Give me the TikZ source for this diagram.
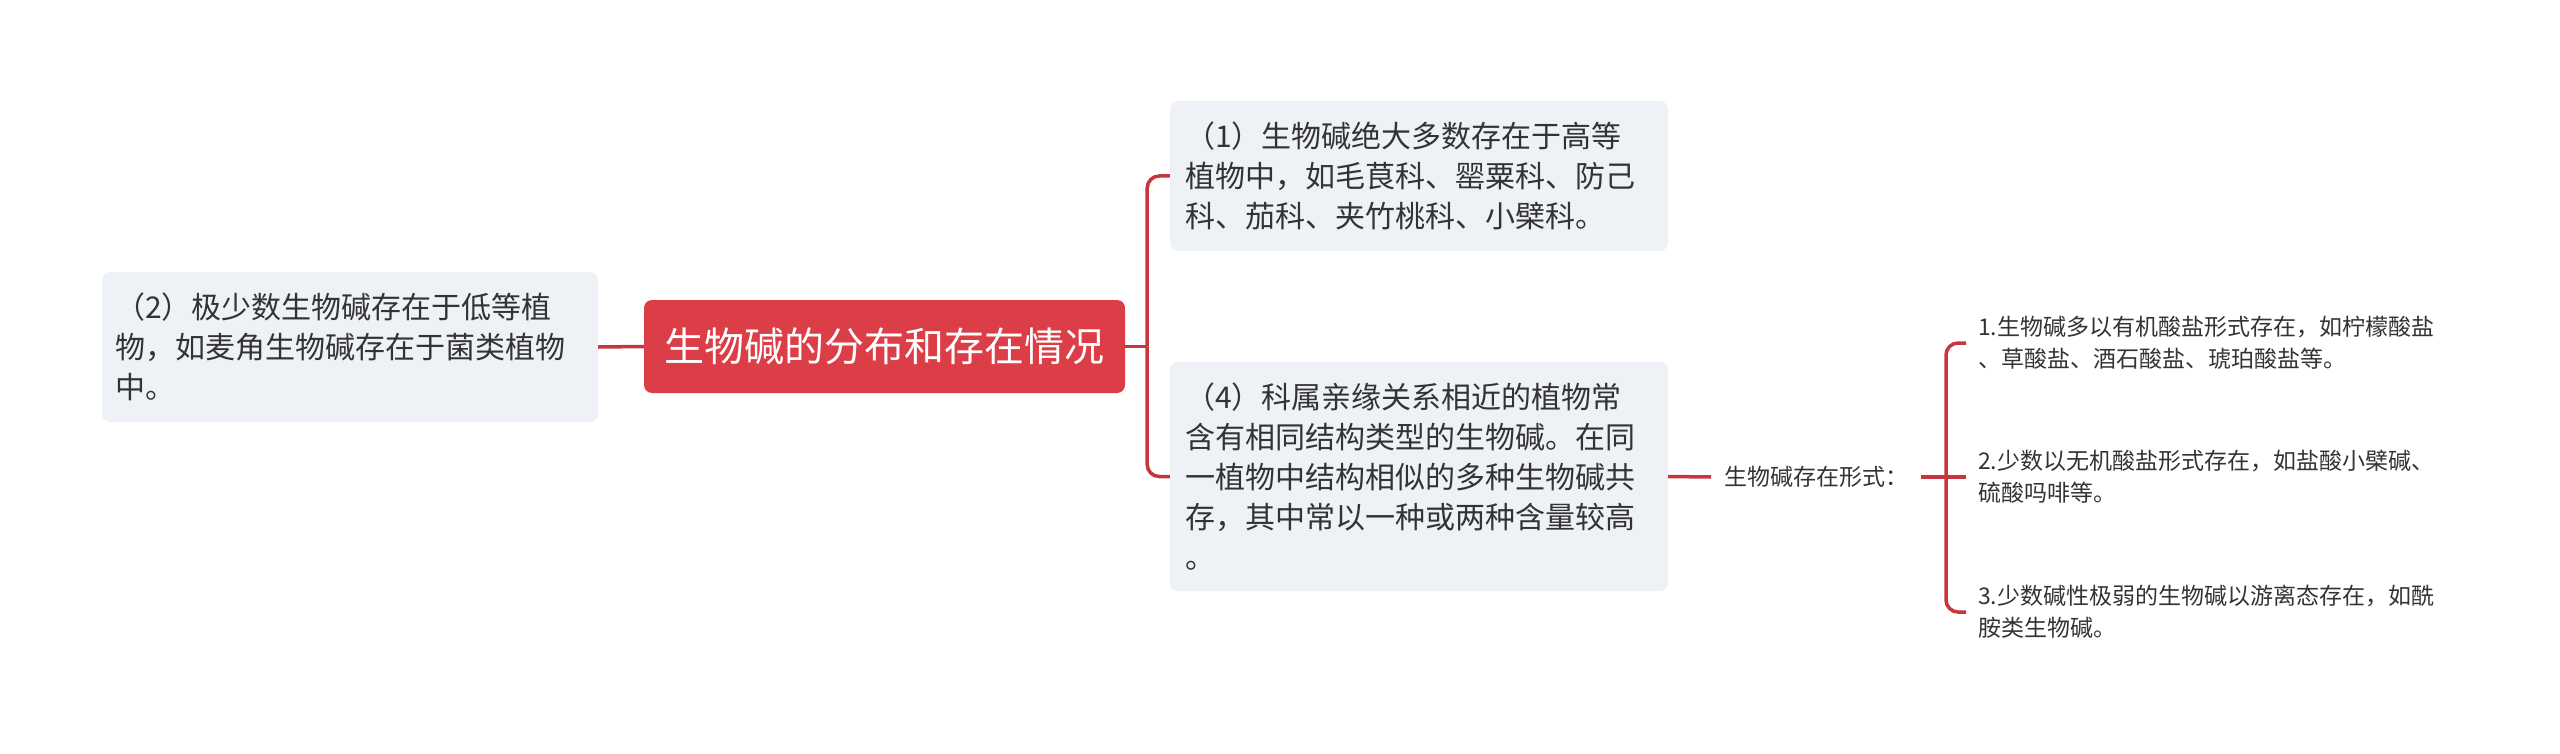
\documentclass[tikz,border=0pt]{standalone}
\usepackage{fontspec}
\newfontfamily\cjk{Noto Sans CJK SC}
\definecolor{rootred}{HTML}{DB3E46}
\definecolor{linered}{HTML}{C9353D}
\definecolor{boxgray}{HTML}{EEF1F5}
\definecolor{txt}{HTML}{333333}
\tikzset{
  conn/.style={draw=linered, line width=3.5pt},
  rootbox/.style={fill=rootred, rounded corners=8pt, text=white, font=\cjk\fontsize{40}{48}\selectfont, minimum width=481pt, minimum height=93pt, inner sep=0pt},
  subbox/.style={fill=boxgray, rounded corners=8pt, text=txt, align=left, font=\cjk\fontsize{30}{40}\selectfont, inner ysep=0pt},
  lbl/.style={text=txt, font=\cjk\fontsize{23}{32}\selectfont, inner xsep=13pt, inner ysep=0pt},
  leaf/.style={text=txt, align=left, font=\cjk\fontsize{23}{32}\selectfont, inner xsep=12pt, inner ysep=0pt, anchor=west}
}
\begin{document}
\begin{tikzpicture}[x=1pt,y=-1pt]
\useasboundingbox (0,0) rectangle (2560,754);
\node[rootbox] (root) at (884.5,346.5) {生物碱的分布和存在情况};
\node[subbox, text width=470pt, inner xsep=13pt, minimum width=496pt, minimum height=150pt] (b2) at (350,347)
  {（2）极少数生物碱存在于低等植\\物，如麦角生物碱存在于菌类植物\\中。};
\node[subbox, text width=468pt, inner xsep=15pt, minimum width=498pt, minimum height=150pt] (b1) at (1419,176)
  {（1）生物碱绝大多数存在于高等\\植物中，如毛茛科、罂粟科、防己\\科、茄科、夹竹桃科、小檗科。};
\node[subbox, text width=468pt, inner xsep=15pt, minimum width=498pt, minimum height=229pt] (b4) at (1419,476.5)
  {（4）科属亲缘关系相近的植物常\\含有相同结构类型的生物碱。在同\\一植物中结构相似的多种生物碱共\\存，其中常以一种或两种含量较高\\。};
\node[lbl, anchor=west] (lab) at (1711,477) {生物碱存在形式：};
\node[leaf] (r1) at (1966,343) {1.生物碱多以有机酸盐形式存在，如柠檬酸盐\\、草酸盐、酒石酸盐、琥珀酸盐等。};
\node[leaf] (r2) at (1966,477) {2.少数以无机酸盐形式存在，如盐酸小檗碱、\\硫酸吗啡等。};
\node[leaf] (r3) at (1966,612) {3.少数碱性极弱的生物碱以游离态存在，如酰\\胺类生物碱。};
\draw[conn] (root.west) -- (b2.east);
\draw[conn] (root.east) -- ++(22,0) coordinate (t1);
\draw[conn, rounded corners=12pt] (t1) |- (b1.west);
\draw[conn, rounded corners=12pt] (t1) |- (b4.west);
\draw[conn] (b4.east) -- (lab.west);
\coordinate (t2) at (1946,477);
\draw[conn] (lab.east) -- (r2.west);
\draw[conn, rounded corners=12pt] (t2) |- (r1.west);
\draw[conn, rounded corners=12pt] (t2) |- (r3.west);
\end{tikzpicture}
\end{document}
